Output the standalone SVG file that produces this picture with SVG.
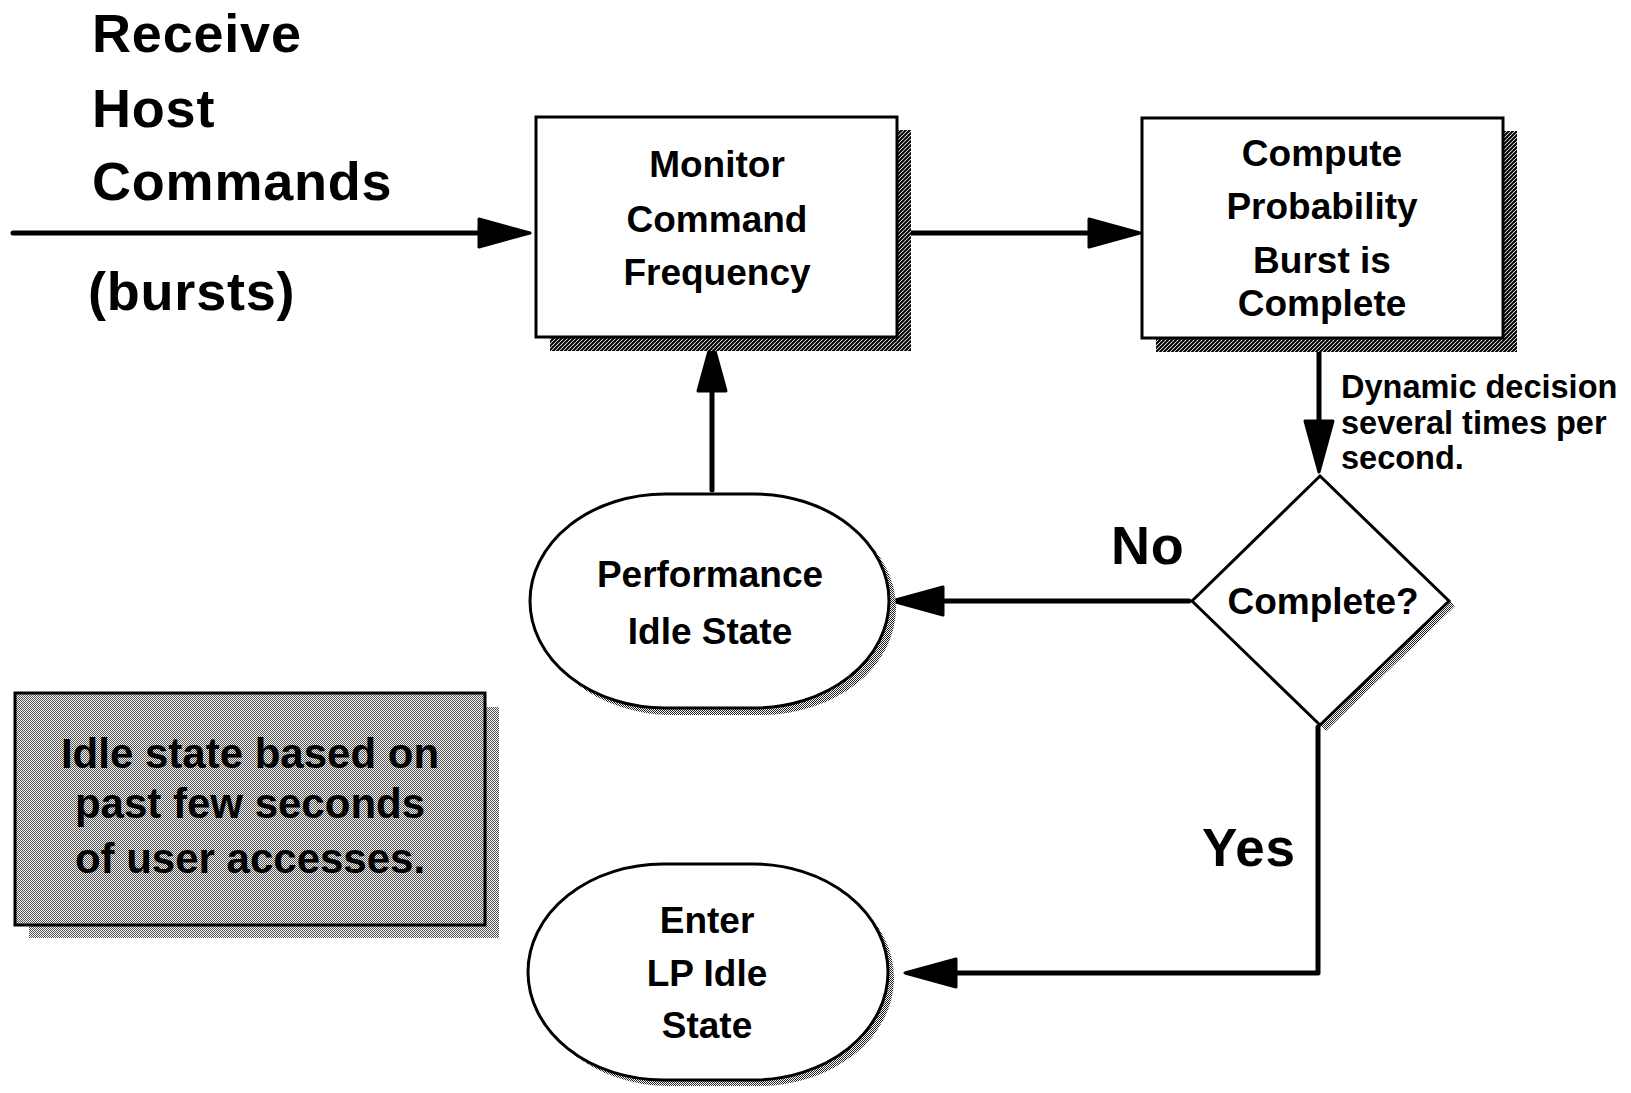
<svg xmlns="http://www.w3.org/2000/svg" width="1631" height="1093" viewBox="0 0 1631 1093">
<style>
text{font-family:"Liberation Sans",Arial,Helvetica,sans-serif;font-weight:bold;fill:#000}
.t37{font-size:37px;text-anchor:middle}
.big{font-size:54px;letter-spacing:0.8px}
.note{font-size:42px;text-anchor:middle}
.dyn{font-size:32.5px}
.shape{fill:#fff;stroke:#000;stroke-width:3}
.conn{fill:none;stroke:#000;stroke-width:5;stroke-linecap:round;stroke-linejoin:round}
</style>
<defs>
<pattern id="hatch" width="4" height="4" patternUnits="userSpaceOnUse">
<rect width="4" height="4" fill="#fff"/>
<path d="M-1,1 L1,-1 M0,4 L4,0 M3,5 L5,3" stroke="#000" stroke-width="2"/>
</pattern>
<pattern id="stip" width="2" height="2" patternUnits="userSpaceOnUse">
<rect width="2" height="2" fill="#fff"/>
<rect width="1" height="1" fill="#222"/>
<rect x="1" y="1" width="1" height="1" fill="#222"/>
</pattern>
<pattern id="half" width="2" height="2" patternUnits="userSpaceOnUse">
<rect width="2" height="2" fill="#f4f4f4"/>
<rect width="1" height="1" fill="#555"/>
<rect x="1" y="1" width="1" height="1" fill="#555"/>
</pattern>
<marker id="ah" viewBox="0 0 56 32" refX="15" refY="16" markerWidth="56" markerHeight="32" markerUnits="userSpaceOnUse" orient="auto">
<path d="M2,2 L53,16 L2,30 Z" fill="#000" stroke="#000" stroke-width="3" stroke-linejoin="round"/>
</marker>
</defs>
<rect width="1631" height="1093" fill="#fff"/>

<g id="title">
<text class="big" x="92" y="52">Receive</text>
<text class="big" x="92" y="127">Host</text>
<text class="big" x="92" y="200">Commands</text>
<text class="big" x="88" y="310">(bursts)</text>
</g>

<g id="connectors">
<path class="conn" d="M13,233 L492,233" marker-end="url(#ah)"/>
<path class="conn" d="M897,233 L1102,233" marker-end="url(#ah)"/>
<path class="conn" d="M1319,338 L1319,434" marker-end="url(#ah)"/>
<path class="conn" d="M1189,601 L930,601" marker-end="url(#ah)"/>
<path class="conn" d="M712,490 L712,378" marker-end="url(#ah)"/>
<path class="conn" d="M1318,727 L1318,973 L943,973" marker-end="url(#ah)"/>
</g>

<g id="monitor">
<rect x="550" y="130" width="361" height="221" fill="url(#hatch)"/>
<rect class="shape" x="536" y="117" width="361" height="220"/>
<text class="t37" x="717" y="177">Monitor</text>
<text class="t37" x="717" y="232">Command</text>
<text class="t37" x="717" y="285">Frequency</text>
</g>

<g id="compute">
<rect x="1156" y="131" width="361" height="221" fill="url(#hatch)"/>
<rect class="shape" x="1142" y="118" width="361" height="220"/>
<text class="t37" x="1322" y="166">Compute</text>
<text class="t37" x="1322" y="219">Probability</text>
<text class="t37" x="1322" y="273">Burst is</text>
<text class="t37" x="1322" y="316">Complete</text>
</g>

<g id="dynamic-label">
<text class="dyn" x="1341" y="398">Dynamic decision</text>
<text class="dyn" x="1341" y="434">several times per</text>
<text class="dyn" x="1341" y="469">second.</text>
</g>

<g id="decision">
<polygon points="1326,480 1455,606 1326,731 1198,606" fill="url(#stip)"/>
<polygon class="shape" points="1320,476 1449,601 1320,725 1192,601"/>
<text class="t37" x="1323" y="614">Complete?</text>
</g>

<g id="label-no"><text class="big" x="1111" y="564">No</text></g>
<g id="label-yes"><text class="big" x="1202" y="866" style="font-size:53px">Yes</text></g>

<g id="performance">
<rect x="537" y="501" width="359" height="214" rx="135" ry="107" fill="url(#stip)"/>
<rect class="shape" x="530" y="494" width="359" height="214" rx="135" ry="107"/>
<text class="t37" x="710" y="587">Performance</text>
<text class="t37" x="710" y="644">Idle State</text>
</g>

<g id="enter">
<rect x="534" y="870" width="360" height="216" rx="135" ry="108" fill="url(#stip)"/>
<rect class="shape" x="528" y="864" width="360" height="216" rx="135" ry="108"/>
<text class="t37" x="707" y="933">Enter</text>
<text class="t37" x="707" y="986">LP Idle</text>
<text class="t37" x="707" y="1038">State</text>
</g>

<g id="note">
<rect x="29" y="707" width="470" height="231" fill="url(#half)"/>
<rect x="15" y="693" width="470" height="232" fill="url(#half)" stroke="#000" stroke-width="3"/>
<text class="note" x="250" y="768">Idle state based on</text>
<text class="note" x="250" y="818">past few seconds</text>
<text class="note" x="250" y="873">of user accesses.</text>
</g>
</svg>
